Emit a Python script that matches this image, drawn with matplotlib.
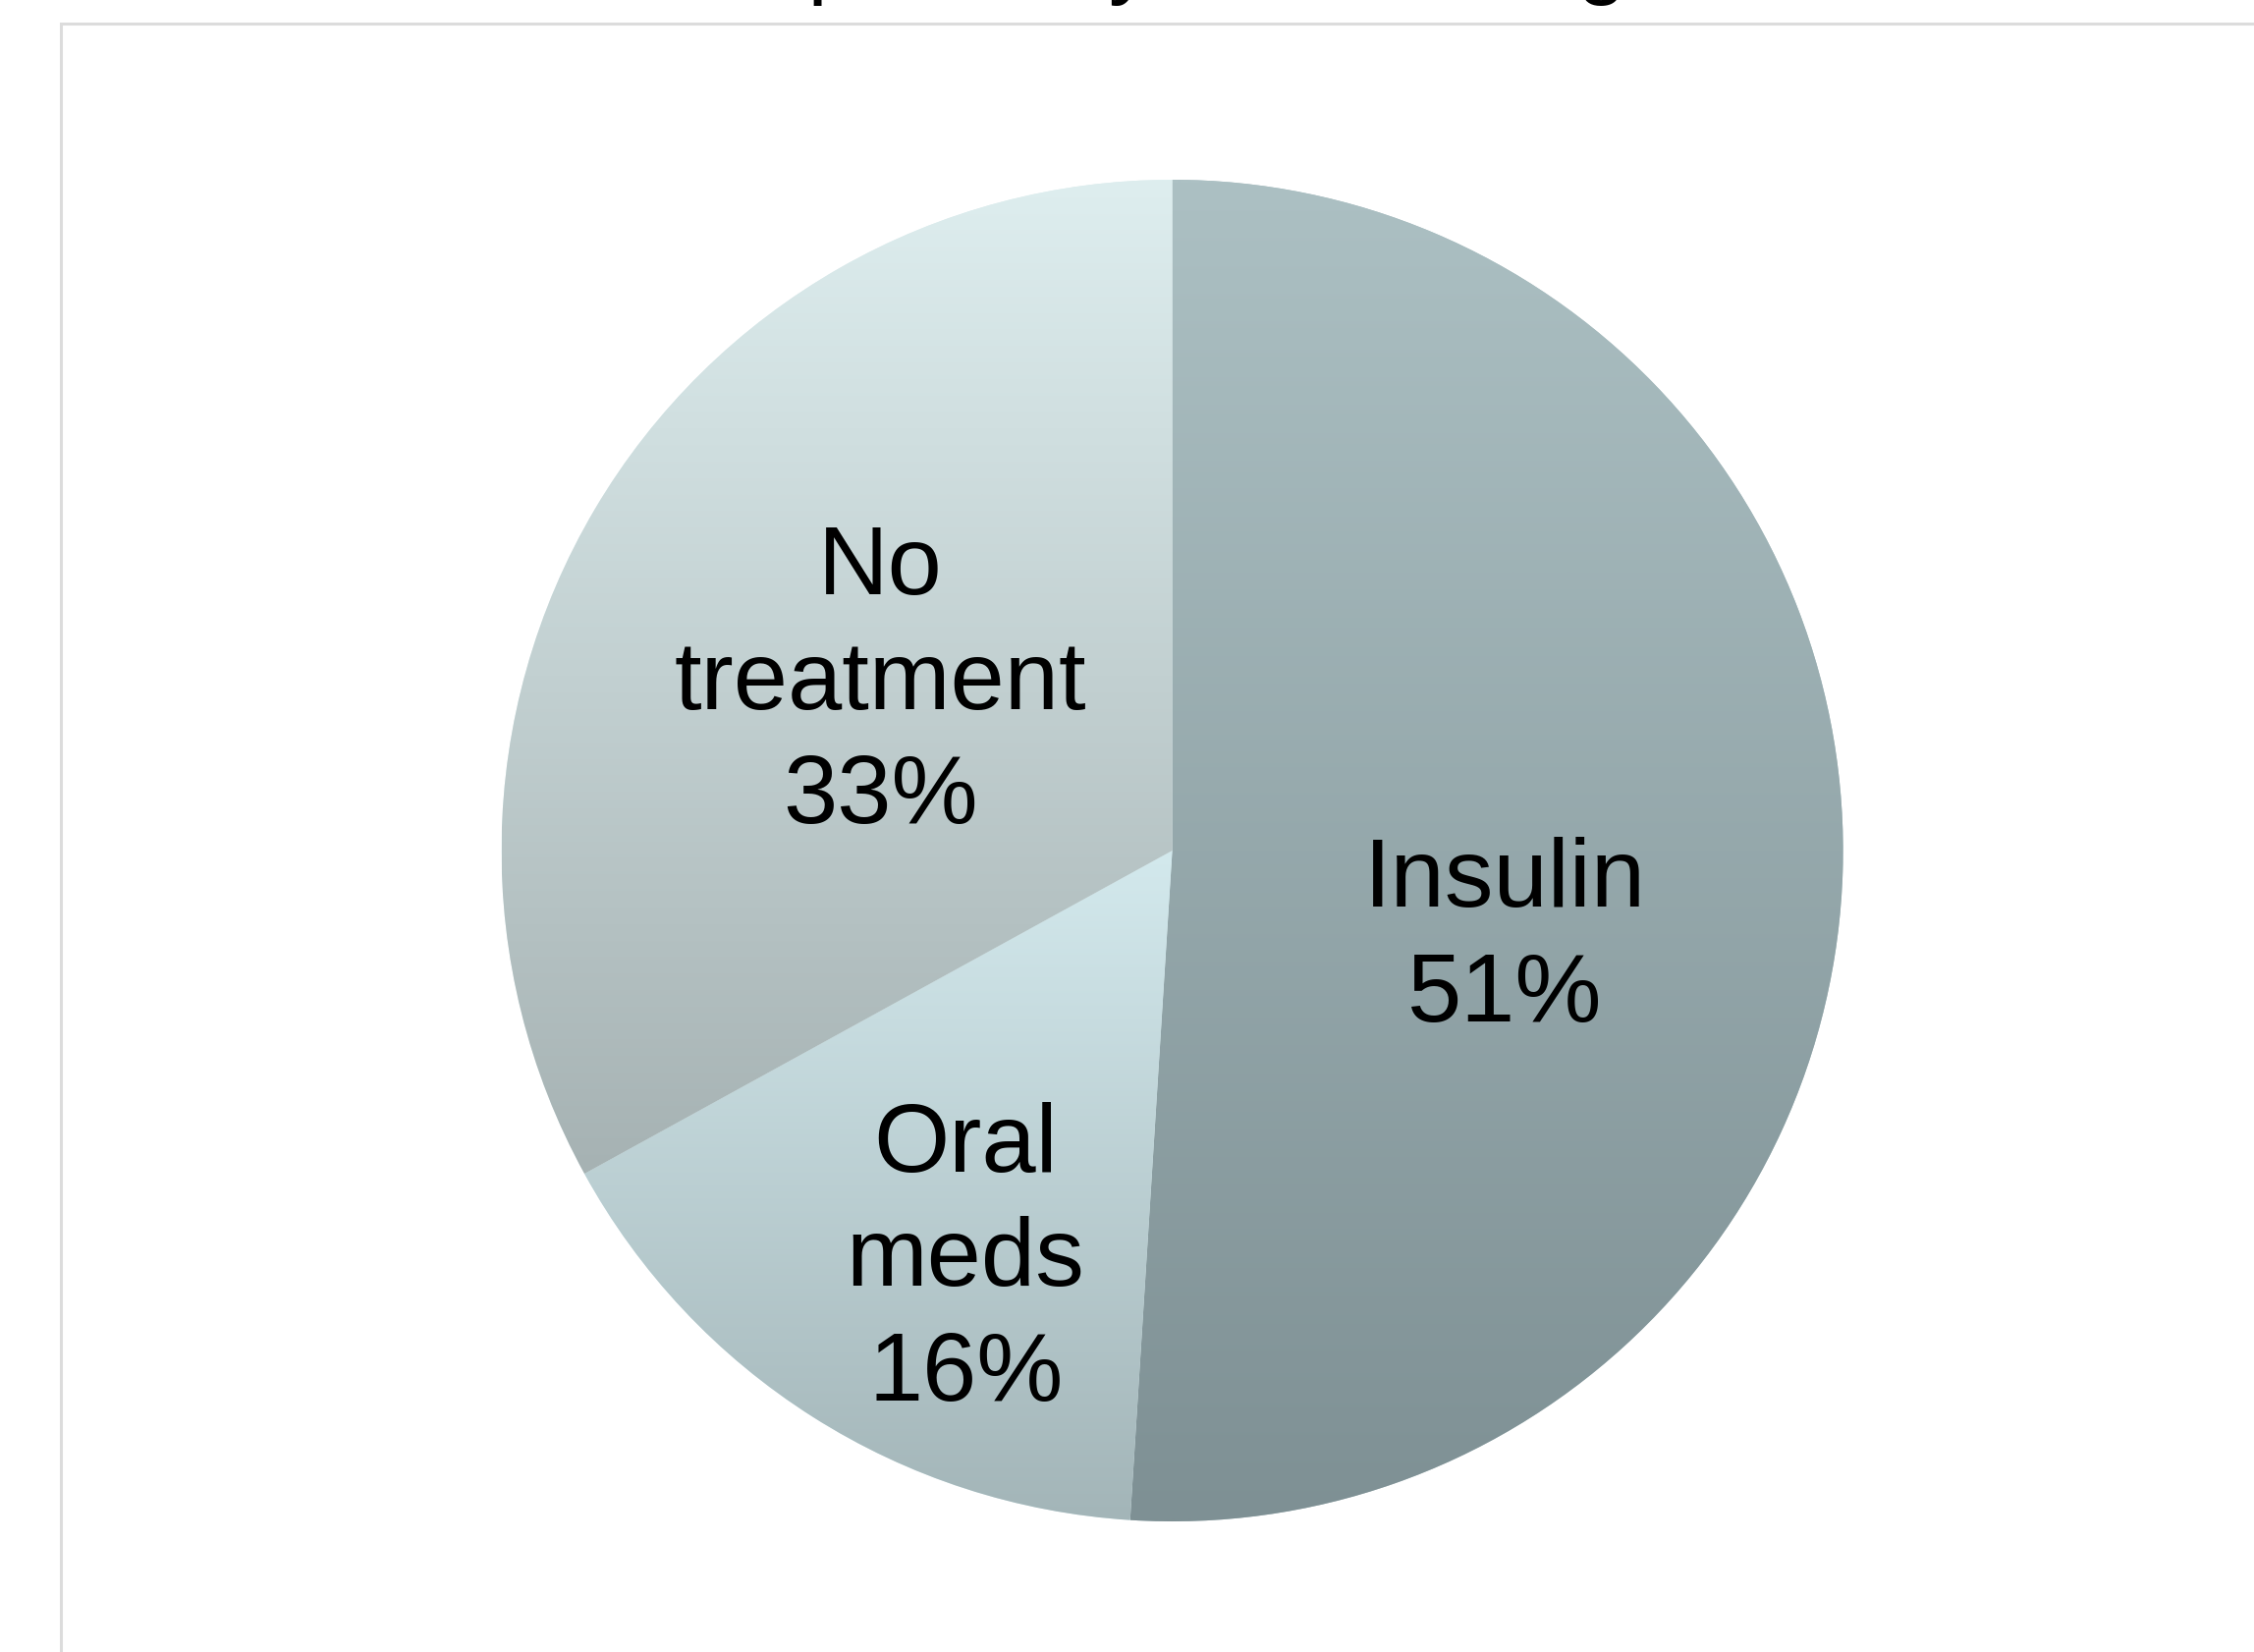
import matplotlib
matplotlib.use('Agg')
import matplotlib.pyplot as plt
import numpy as np
from matplotlib.colors import to_rgb
from matplotlib.patches import Rectangle

plt.rcParams['font.family'] = ['Liberation Sans', 'DejaVu Sans']

# shares of patients per treatment group
groups = ['Insulin', 'Oral\nmeds', 'No\ntreatment']
shares = [51, 16, 33]

# vertical gradient per slice (top colour, bottom colour)
top_colors = ['#acc0c3', '#d3e9ed', '#deeeef']
bottom_colors = ['#7e9094', '#a3b5b8', '#a6b2b3']

# label anchor inside each slice, in units of the pie radius
label_pos = [(0.496, -0.130), (-0.308, -0.610), (-0.435, 0.250)]

W, H = 2295, 1683
cx, cy, rad = 1193.6, 867.0, 683.0

fig = plt.figure(figsize=(W / 100, H / 100), dpi=100)
ax = fig.add_axes([0, 0, 1, 1])

# light frame around the plot area
fig.patches.append(Rectangle((62 / W, -0.1), 1.2, 1 - 25 / H + 0.1,
                             transform=fig.transFigure, fill=False,
                             edgecolor='#dcdcdc', lw=2.2, zorder=0))

wedges, _ = ax.pie(shares, startangle=90, counterclock=False, radius=1,
                   center=(0, 0), wedgeprops=dict(edgecolor='none'),
                   frame=True)
ax.set_xlim(-cx / rad, (W - cx) / rad)
ax.set_ylim((cy - H) / rad, cy / rad)
ax.set_aspect('auto')
ax.axis('off')

for w, c_top, c_bot in zip(wedges, top_colors, bottom_colors):
    t = np.radians(np.linspace(w.theta1, w.theta2, 200))
    xs = np.concatenate([[0], np.cos(t)])
    ys = np.concatenate([[0], np.sin(t)])
    y0, y1 = ys.min(), ys.max()
    x0, x1 = xs.min(), xs.max()
    f = np.linspace(0, 1, 256)[:, None, None]
    grad = (1 - f) * np.array(to_rgb(c_top)) + f * np.array(to_rgb(c_bot))
    w.set_facecolor(c_top)
    im = ax.imshow(grad, extent=(x0, x1, y0, y1), origin='upper',
                   aspect='auto', interpolation='bilinear', zorder=2)
    im.set_clip_path(w)

for name, val, (lx, ly) in zip(groups, shares, label_pos):
    ax.text(lx, ly, f'{name}\n{val}%', ha='center', va='center',
            fontsize=71.5, linespacing=1.36, color='black', zorder=5)

# title sits above the visible area
fig.text(632 / W, 1 + 13 / H, 'Compared by treatment given', ha='left',
         va='baseline', fontsize=65, color='black')

fig.savefig('out.png', dpi=100, facecolor='white')
